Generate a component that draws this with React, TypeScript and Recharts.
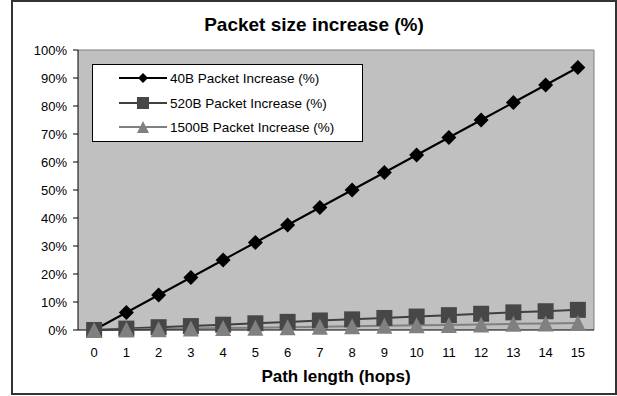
import {
  LineChart,
  Line,
  XAxis,
  YAxis,
  CartesianGrid,
  ReferenceLine,
  Legend,
} from "recharts";

const FONT = "'Liberation Sans', Arial, sans-serif";

// Path length in hops
const hops = [0, 1, 2, 3, 4, 5, 6, 7, 8, 9, 10, 11, 12, 13, 14, 15];

// Packet size increase (%) per packet size
const increase40 = [0, 6.25, 12.5, 18.75, 25, 31.25, 37.5, 43.75, 50, 56.25, 62.5, 68.75, 75, 81.25, 87.5, 93.75];
const increase520 = [0, 0.5, 1.0, 1.4, 1.9, 2.4, 2.9, 3.4, 3.8, 4.3, 4.8, 5.3, 5.8, 6.3, 6.7, 7.2];
const increase1500 = [0, 0.2, 0.3, 0.5, 0.7, 0.8, 1.0, 1.2, 1.3, 1.5, 1.7, 1.8, 2.0, 2.2, 2.3, 2.5];

const yTicks = [0, 10, 20, 30, 40, 50, 60, 70, 80, 90, 100];
// tick marks sit between the categories, like an Excel category axis
const hopEdges = [...hops.map((h) => h - 0.5), 15.5];

const seriesNames = [
  "40B Packet Increase (%)",
  "520B Packet Increase (%)",
  "1500B Packet Increase (%)",
];

const data = hops.map((hop, i) => ({
  hop,
  b40: increase40[i],
  b520: increase520[i],
  b1500: increase1500[i],
}));

type Shape = "diamond" | "square" | "triangle";

function Marker({ shape, cx, cy, size, color }: { shape: Shape; cx: number; cy: number; size: number; color: string }) {
  const h = size / 2;
  if (shape === "diamond") {
    return <path d={`M${cx},${cy - h}L${cx + h},${cy}L${cx},${cy + h}L${cx - h},${cy}Z`} fill={color} />;
  }
  if (shape === "square") {
    return <rect x={cx - h} y={cy - h} width={size} height={size} fill={color} />;
  }
  return <path d={`M${cx},${cy - h}L${cx + h},${cy + h}L${cx - h},${cy + h}Z`} fill={color} />;
}

const series: { key: string; name: string; shape: Shape; line: string; fill: string; size: number }[] = [
  { key: "b40", name: seriesNames[0], shape: "diamond", line: "#000000", fill: "#000000", size: 15 },
  { key: "b520", name: seriesNames[1], shape: "square", line: "#404040", fill: "#474747", size: 16 },
  { key: "b1500", name: seriesNames[2], shape: "triangle", line: "#808080", fill: "#808080", size: 16 },
];

function LegendBox() {
  const rows = [14, 39, 63];
  const legendSize = [10, 12, 12];
  return (
    <svg width={271} height={78} style={{ display: "block" }}>
      <rect x={0.5} y={0.5} width={270} height={77} fill="#ffffff" stroke="#000000" />
      {series.map((s, i) => (
        <g key={s.key}>
          <line x1={27} x2={75} y1={rows[i]} y2={rows[i]} stroke={s.line} strokeWidth={2} />
          <Marker shape={s.shape} cx={51} cy={rows[i]} size={legendSize[i]} color={s.fill} />
          <text x={78} y={rows[i] + 5} fontSize={13.5} fontFamily={FONT} fill="#000">
            {s.name}
          </text>
        </g>
      ))}
    </svg>
  );
}

export default function App() {
  return (
    <div
      style={{
        position: "absolute",
        left: 0,
        top: 0,
        width: 617,
        height: 396,
        background: "#ffffff",
        fontFamily: FONT,
      }}
    >
      {/* chart frame */}
      <div
        style={{
          position: "absolute",
          left: 11,
          top: 0,
          width: 606,
          height: 395,
          boxSizing: "border-box",
          border: "2px solid #333333",
        }}
      />
      <div
        style={{
          position: "absolute",
          left: 11,
          width: 606,
          top: 14,
          textAlign: "center",
          fontSize: 19,
          fontWeight: 700,
          lineHeight: "22px",
        }}
      >
        Packet size increase (%)
      </div>
      <div
        style={{
          position: "absolute",
          left: 78,
          width: 516,
          top: 367,
          textAlign: "center",
          fontSize: 17,
          fontWeight: 700,
          lineHeight: "20px",
        }}
      >
        Path length (hops)
      </div>

      <div style={{ position: "absolute", left: 0, top: 0 }}>
        <LineChart
          width={617}
          height={396}
          data={data}
          margin={{ top: 50, right: 23, left: 18, bottom: 35 }}
        >
          <CartesianGrid fill="#C0C0C0" horizontal={false} vertical={false} />
          {/* boundary tick marks */}
          <XAxis
            xAxisId="edges"
            type="number"
            dataKey="hop"
            domain={[-0.5, 15.5]}
            ticks={hopEdges}
            interval={0}
            height={1}
            axisLine={false}
            tick={false}
            tickLine={{ stroke: "#000", strokeWidth: 1 }}
            tickSize={5}
          />
          <XAxis
            type="number"
            dataKey="hop"
            domain={[-0.5, 15.5]}
            ticks={hops}
            interval={0}
            height={30}
            axisLine={{ stroke: "#000" }}
            tickLine={false}
            tickMargin={12}
            tick={{ fontSize: 13, fill: "#000", fontFamily: FONT }}
          />
          <YAxis
            domain={[0, 100]}
            ticks={yTicks}
            interval={0}
            width={60}
            axisLine={{ stroke: "#000" }}
            tickLine={{ stroke: "#000" }}
            tickSize={5}
            tickMargin={6}
            tickFormatter={(v) => `${v}%`}
            tick={{ fontSize: 13, fill: "#000", fontFamily: FONT }}
          />
          <ReferenceLine y={100} stroke="#808080" />
          <ReferenceLine x={15.5} xAxisId="edges" stroke="#808080" />
          {series.map((s) => (
            <Line
              key={s.key}
              dataKey={s.key}
              name={s.name}
              stroke={s.line}
              strokeWidth={2}
              isAnimationActive={false}
              dot={(p: any) => (
                <Marker key={`${s.key}-${p.index}`} shape={s.shape} cx={p.cx} cy={p.cy} size={s.size} color={s.fill} />
              )}
              activeDot={false}
            />
          ))}
          <Legend
            layout="horizontal"
            verticalAlign="middle"
            align="center"
            content={() => <LegendBox />}
            wrapperStyle={{ left: 92, top: 64, width: 271, height: 78 }}
          />
        </LineChart>
      </div>
    </div>
  );
}
